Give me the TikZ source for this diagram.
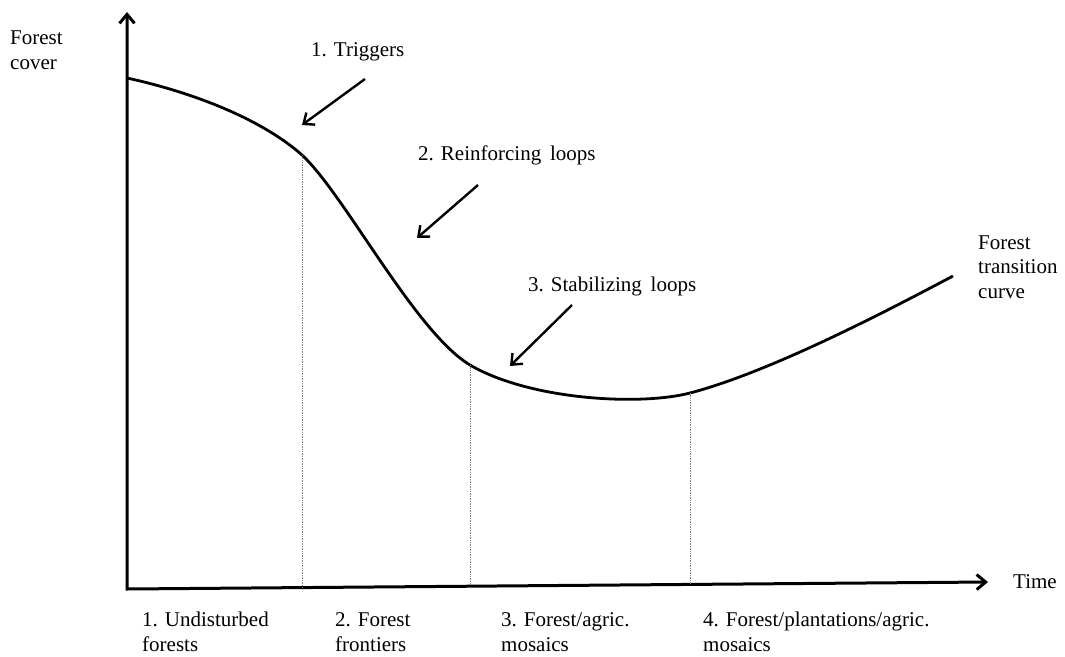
\documentclass[tikz,border=0pt]{standalone}
\usepackage{fontspec}
\setmainfont{Liberation Serif}
\usetikzlibrary{positioning}
\usetikzlibrary{arrows.meta,calc}
\tikzset{
    % standard arrow tip
    >={Straight Barb[length=9pt,width=15pt]},
    % axes
    ax/.style={<->, line width=3pt},
    % arrows from the loop labels to the curve
    pil/.style={->, line width=2.4pt},
    % transition curve
    trans/.style={line width=2.8pt},
    % borders between phases
    phase/.style={gray, line width=0.7pt, densely dotted},
    % text
    lbl/.style={anchor=west, align=left, inner sep=0pt,
                font=\fontsize{21}{24.5}\selectfont},
}

\begin{document}
\begin{tikzpicture}[x=1pt,y=-1pt]
\useasboundingbox (0,0) rectangle (1065,656);

%%%%%%%%%%%%%%%%%%%%%%%%%%%%%%%%%

% axes
\coordinate (O)    at (127,589);
\coordinate (ytip) at (127,12);
\coordinate (xtip) at (988,582);
\draw [ax] (ytip) -- (O) -- (xtip);

% curve
\coordinate (c0) at (127,78);
\coordinate (c1) at (302,155);
\coordinate (c2) at (470,365);
\coordinate (c3) at (690,393);
\coordinate (c4) at (953,276);
\draw [trans] (c0) .. controls (200,94) and (265,122) .. (c1)
                   .. controls (345,195) and (415,332) .. (c2)
                   .. controls (530,400) and (640,406) .. (c3)
                   .. controls (770,372) and (885,312) .. (c4);

% phase borders
\coordinate (b1) at (302,588);
\coordinate (b2) at (470,586);
\coordinate (b3) at (690,584);
\draw [phase] (c1) -- (b1);
\draw [phase] (c2) -- (b2);
\draw [phase] (c3) -- (b3);

% axis labels
\node [lbl] (cover) at (10,50) {Forest\\cover};
\node [lbl] (time) at (1013,582) {Time};
\node [lbl] (ftc) at (978,267) {Forest\\transition\\curve};

% loop labels and arrows
\node [lbl] (trig) at (311,52) {1. Triggers};
\node [lbl] (reinf) at (418,155) {2. Reinforcing\, loops};
\node [lbl] (stab) at (528,286) {3. Stabilizing\, loops};

\coordinate (a1s) at (365,79);
\coordinate (a1e) at (302,125);
\coordinate (a2s) at (478,185);
\coordinate (a2e) at (417,238);
\coordinate (a3s) at (572,305);
\coordinate (a3e) at (510,366);
\draw [pil] (a1s) -- (a1e);
\draw [pil] (a2s) -- (a2e);
\draw [pil] (a3s) -- (a3e);

% phases
\node [lbl] (p1) at (142,632) {1. Undisturbed\\forests};
\node [lbl] (p2) at (335,632) {2. Forest\\frontiers};
\node [lbl] (p3) at (501,632) {3. Forest/agric.\\mosaics};
\node [lbl] (p4) at (703,632) {4. Forest/plantations/agric.\\mosaics};

\end{tikzpicture}
\end{document}
